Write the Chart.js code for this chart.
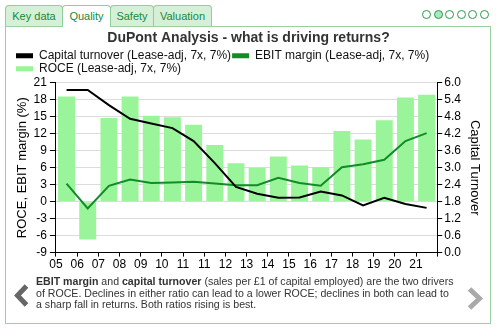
<!DOCTYPE html>
<html><head><meta charset="utf-8">
<script src="https://cdn.jsdelivr.net/npm/chart.js@4/dist/chart.umd.min.js"></script>
<style>
html,body{margin:0;padding:0;background:#fff;width:502px;height:330px;overflow:hidden;font-family:"Liberation Sans",Arial,sans-serif;}
.tab{position:absolute;top:5px;height:20px;border:1px solid #8fcf9a;border-bottom:none;border-radius:4px 4px 0 0;background:#d6f0d8;color:#178a36;font-size:11px;line-height:20px;text-align:center;box-sizing:content-box;}
.tab.active{background:#fff;height:21px;z-index:2;}
#panel{position:absolute;left:5px;top:26px;width:484px;height:296px;border:1px solid #9bd0a3;}
.dot{position:absolute;top:10px;width:7px;height:7px;border:1.5px solid #2a9a4a;border-radius:50%;}
#note{position:absolute;left:36px;top:276px;font-size:10.6px;line-height:11.7px;color:#333;white-space:nowrap;}
#c{position:absolute;left:6px;top:27px;}
</style></head>
<body>
<div id="panel"></div>
<div class="tab" style="left:5px;width:56px;">Key data</div>
<div class="tab active" style="left:62px;width:47px;">Quality</div>
<div class="tab" style="left:110px;width:42px;">Safety</div>
<div class="tab" style="left:153px;width:57px;">Valuation</div>
<div class="dot" style="left:422px;"></div>
<div class="dot" style="left:433.5px;background:#a9e8bd;"></div>
<div class="dot" style="left:445px;"></div>
<div class="dot" style="left:456.5px;"></div>
<div class="dot" style="left:468px;"></div>
<div class="dot" style="left:479.5px;"></div>
<canvas id="c" width="483" height="248"></canvas>
<svg style="position:absolute;left:0;top:0" width="502" height="330">
<polyline points="26.5,286 17.5,295.5 26.5,305" fill="none" stroke="#666" stroke-width="5"/>
<polyline points="469.5,289 479.5,298.5 469.5,308" fill="none" stroke="#aaa" stroke-width="5"/>
</svg>
<div id="note"><b>EBIT margin</b> and <b>capital turnover</b> (sales per £1 of capital employed) are the two drivers<br>of ROCE. Declines in either ratio can lead to a lower ROCE; declines in both can lead to<br>a sharp fall in returns. Both ratios rising is best.</div>
<script>
const years = ['05','06','07','08','09','10','11','11','12','13','14','15','16','17','18','19','20','21'];
const roce = [18.6,-6.7,14.8,18.6,15.2,14.9,13.6,10.0,6.8,6.0,8.0,6.4,6.1,12.5,11.0,14.4,18.4,18.9];
const ebitMargin = [3.2,-1.2,2.8,3.9,3.3,3.4,3.5,3.2,2.9,2.9,4.2,3.3,2.8,6.1,6.6,7.4,10.7,12.1];
const capitalTurnover = [5.75,5.75,5.21,4.73,4.56,4.40,3.94,3.16,2.32,2.08,1.94,1.95,2.16,2.02,1.67,1.94,1.72,1.58];
const leftTicks = {min:-9, max:21, step:3};
const rightTicks = {min:0, max:6, step:0.6};

const pts = arr => arr.map((v,i)=>({x:i+0.5, y:v}));
Chart.defaults.font.family = '"Liberation Sans", Arial, sans-serif';
Chart.defaults.font.size = 12;
Chart.defaults.color = '#000';

new Chart(document.getElementById('c'), {
  type:'bar',
  data:{datasets:[
    {type:'line', label:'Capital turnover (Lease-adj, 7x, 7%)', data:pts(capitalTurnover), yAxisID:'y1',
     borderColor:'#000', backgroundColor:'#000', borderWidth:2, pointRadius:0, tension:0, order:1},
    {type:'line', label:'EBIT margin (Lease-adj, 7x, 7%)', data:pts(ebitMargin), yAxisID:'y',
     borderColor:'#118c28', backgroundColor:'#118c28', borderWidth:2, pointRadius:0, tension:0, order:2},
    {type:'bar', label:'ROCE (Lease-adj, 7x, 7%)', data:pts(roce), yAxisID:'y',
     backgroundColor:'#9af59a', borderWidth:0, barPercentage:0.8, categoryPercentage:1.0, order:3}
  ]},
  options:{
    responsive:false, animation:false, devicePixelRatio:1,
    layout:{padding:{left:9,right:7,top:0,bottom:2}},
    plugins:{
      title:{display:true, text:'DuPont Analysis - what is driving returns?', color:'#333',
        font:{size:14, weight:'bold'}, padding:{top:3,bottom:2}},
      legend:{display:true, align:'start', maxHeight:34,
        labels:{boxWidth:17, boxHeight:5, padding:1, color:'#111', font:{size:12},
          generateLabels:(chart)=>Chart.defaults.plugins.legend.labels.generateLabels(chart).map(l=>Object.assign(l,{lineWidth:0}))}},
      tooltip:{enabled:false}
    },
    scales:{
      x:{type:'linear', min:0, max:years.length, offset:false,
        grid:{offset:false, drawOnChartArea:false, tickLength:4, tickColor:'#000'},
        border:{color:'#000'},
        ticks:{stepSize:1, autoSkip:false, maxRotation:0, padding:1, color:'#000',
          callback:(v)=> (Number.isInteger(v) && v < years.length) ? years[v] : ''}},
      y:{position:'left', min:leftTicks.min, max:leftTicks.max,
        grid:{color:'#dcdcdc', tickColor:'#000', tickLength:6},
        border:{color:'#000'},
        ticks:{stepSize:leftTicks.step, autoSkip:false, padding:3, color:'#000'},
        title:{display:true, text:'ROCE, EBIT margin (%)', font:{size:13}, color:'#000', padding:{top:0,bottom:0}}},
      y1:{position:'right', min:rightTicks.min, max:rightTicks.max,
        grid:{drawOnChartArea:false, tickColor:'#000', tickLength:5},
        border:{color:'#000'},
        ticks:{stepSize:rightTicks.step, autoSkip:false, padding:2, color:'#000', callback:(v)=>Number(v).toFixed(1)},
        title:{display:true, text:'Capital Turnover', font:{size:13}, color:'#000', padding:{top:0,bottom:3.5}}}
    }
  }
});
</script>
</body></html>
